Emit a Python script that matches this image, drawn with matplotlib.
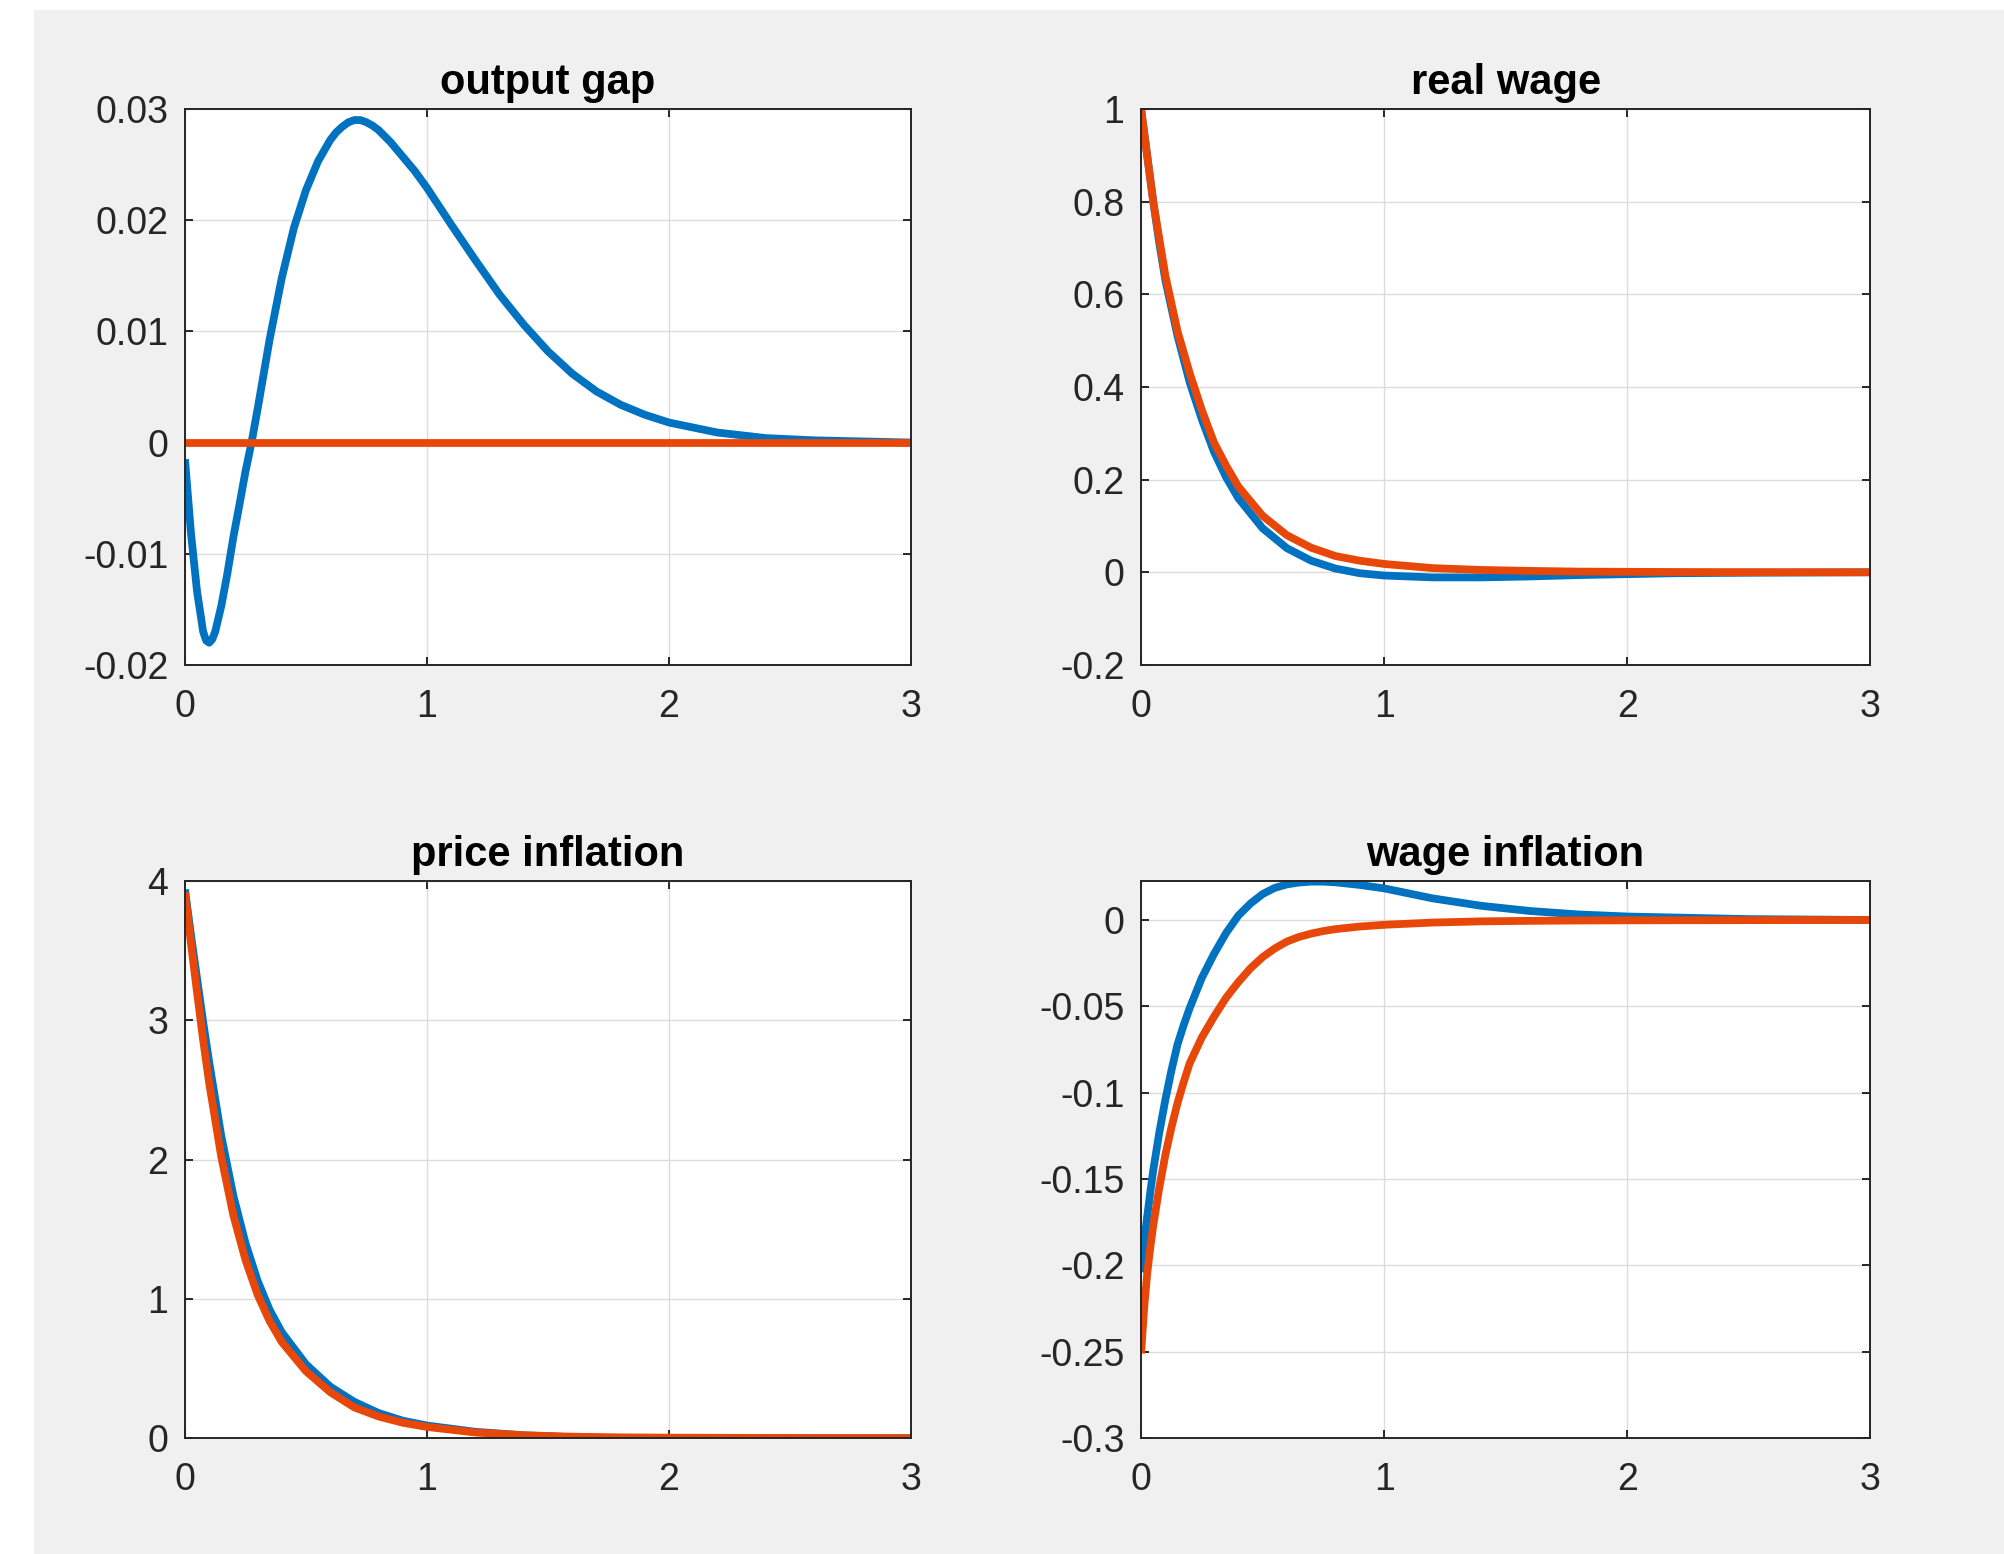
import matplotlib
matplotlib.use('Agg')
import matplotlib.pyplot as plt
from matplotlib.patches import Rectangle
from matplotlib.ticker import FuncFormatter

plt.rcParams['font.family'] = ['Liberation Sans', 'DejaVu Sans']
plt.rcParams['axes.unicode_minus'] = False

# values
t_gap = [0, 0.025, 0.05, 0.075, 0.0875, 0.1, 0.1125, 0.125, 0.15, 0.175, 0.2, 0.225, 0.25, 0.275,
         0.3, 0.35, 0.4, 0.45, 0.5, 0.55, 0.6, 0.625, 0.65, 0.675, 0.7, 0.725, 0.75, 0.775,
         0.8, 0.85, 0.9, 0.95, 1.0, 1.1, 1.2, 1.3, 1.4, 1.5, 1.6, 1.7, 1.8, 1.9, 2.0, 2.2,
         2.4, 2.6, 2.8, 3.0]
gap_blue = [-0.0015, -0.0082, -0.0134, -0.0170, -0.0178, -0.0180, -0.0177, -0.0170, -0.0147,
            -0.0118, -0.0085, -0.0056, -0.0026, 0.0, 0.0030, 0.0093, 0.0148, 0.0193, 0.0227,
            0.0253, 0.0272, 0.0279, 0.0284, 0.0288, 0.0290, 0.0290, 0.0288, 0.0285, 0.0281,
            0.0270, 0.0257, 0.0244, 0.0229, 0.0196, 0.0164, 0.0133, 0.0106, 0.0082, 0.0062,
            0.0046, 0.0034, 0.0025, 0.0018, 0.0009, 0.0004, 0.0002, 0.0001, 0.0]
t_flat = [0, 3]
gap_orange = [0.0, 0.0]

t_decay = [0, 0.025, 0.05, 0.075, 0.1, 0.15, 0.2, 0.25, 0.3, 0.35, 0.4, 0.5, 0.6, 0.7, 0.8,
           0.9, 1.0, 1.2, 1.4, 1.6, 1.8, 2.0, 2.2, 2.5, 3.0]
rw_blue = [1.0, 0.90, 0.80, 0.71, 0.63, 0.51, 0.41, 0.33, 0.26, 0.205, 0.16, 0.095, 0.052,
           0.025, 0.008, -0.002, -0.007, -0.011, -0.011, -0.009, -0.006, -0.004, -0.002,
           -0.001, 0.0]
rw_orange = [1.0, 0.90, 0.80, 0.72, 0.64, 0.52, 0.43, 0.35, 0.28, 0.23, 0.185, 0.122, 0.08,
             0.053, 0.035, 0.025, 0.018, 0.009, 0.005, 0.003, 0.0015, 0.001, 0.0006, 0.0003, 0.0]

pi_blue = [3.94, 3.61, 3.30, 2.99, 2.70, 2.17, 1.74, 1.40, 1.13, 0.92, 0.76, 0.53, 0.37, 0.26,
           0.18, 0.125, 0.09, 0.045, 0.02, 0.006, -0.002, -0.005, -0.005, -0.003, -0.001]
pi_orange = [3.92, 3.55, 3.20, 2.86, 2.55, 2.02, 1.60, 1.28, 1.03, 0.84, 0.69, 0.48, 0.33,
             0.22, 0.155, 0.11, 0.08, 0.04, 0.02, 0.01, 0.005, 0.003, 0.002, 0.001, 0.0]

t_wi = [0, 0.0125, 0.025, 0.0375, 0.05, 0.075, 0.1, 0.125, 0.15, 0.175, 0.2, 0.25, 0.3, 0.35,
        0.4, 0.45, 0.5, 0.55, 0.6, 0.65, 0.7, 0.75, 0.8, 0.9, 1.0, 1.2, 1.4, 1.6, 1.8, 2.0,
        2.5, 3.0]
wi_blue = [-0.204, -0.187, -0.172, -0.158, -0.145, -0.123, -0.104, -0.087, -0.072, -0.061,
           -0.051, -0.0335, -0.0197, -0.0075, 0.0025, 0.0095, 0.0150, 0.0186, 0.0206, 0.0217,
           0.0222, 0.0222, 0.0218, 0.0203, 0.0183, 0.0125, 0.0082, 0.0052, 0.0032, 0.0020,
           0.0005, 0.0]
wi_orange = [-0.251, -0.225, -0.205, -0.190, -0.177, -0.155, -0.136, -0.120, -0.106, -0.094,
             -0.083, -0.068, -0.056, -0.045, -0.036, -0.028, -0.0215, -0.0165, -0.0125,
             -0.0098, -0.0079, -0.0064, -0.0053, -0.0038, -0.0028, -0.0015, -0.0008, -0.0005,
             -0.0003, -0.0002, -0.0001, 0.0]

xticks = [0, 1, 2, 3]
gap_ticks = [-0.02, -0.01, 0, 0.01, 0.02, 0.03]
rw_ticks = [-0.2, 0, 0.2, 0.4, 0.6, 0.8, 1]
pi_ticks = [0, 1, 2, 3, 4]
wi_ticks = [-0.3, -0.25, -0.2, -0.15, -0.1, -0.05, 0]

blue = '#0072C0'
orange = '#E8470A'
dark = '#262626'

fig = plt.figure(figsize=(20.04, 15.54), dpi=100)
fig.patch.set_facecolor('white')
# grey window background like the matlab figure
fig.add_artist(Rectangle((34 / 2004, 0), 1, 1 - 10 / 1554, transform=fig.transFigure,
                         facecolor='#f0f0f0', edgecolor='none', zorder=-10))

rects = [[0.0923, 0.5721, 0.3623, 0.3578],
         [0.5694, 0.5721, 0.3638, 0.3578],
         [0.0923, 0.0746, 0.3623, 0.3584],
         [0.5694, 0.0746, 0.3638, 0.3584]]
panels = [
    ('output gap', t_gap, gap_blue, t_flat, gap_orange, gap_ticks, (-0.02, 0.03)),
    ('real wage', t_decay, rw_blue, t_decay, rw_orange, rw_ticks, (-0.2, 1)),
    ('price inflation', t_decay, pi_blue, t_decay, pi_orange, pi_ticks, (0, 4)),
    ('wage inflation', t_wi, wi_blue, t_wi, wi_orange, wi_ticks, (-0.3, 0.0225)),
]

for rect, (title, tb, yb, to, yo, yt, ylim) in zip(rects, panels):
    ax = fig.add_axes(rect)
    ax.set_facecolor('white')
    ax.plot(tb, yb, color=blue, lw=5.6, solid_capstyle='butt', solid_joinstyle='round')
    ax.plot(to, yo, color=orange, lw=5.6, solid_capstyle='butt', solid_joinstyle='round')
    ax.set_xlim(0, 3)
    ax.set_ylim(*ylim)
    ax.set_xticks(xticks)
    ax.set_yticks(yt)
    ax.yaxis.set_major_formatter(FuncFormatter(lambda v, p: '%g' % round(v, 4)))
    ax.grid(True, color='#dcdcdc', lw=1.0)
    ax.set_axisbelow(True)
    for s in ax.spines.values():
        s.set_color(dark)
        s.set_linewidth(1.4)
    ax.tick_params(direction='in', length=5.5, width=1.4, color=dark, labelcolor=dark,
                   labelsize=27, top=True, right=True)
    ax.tick_params(axis='x', pad=17)
    ax.tick_params(axis='y', pad=12)
    ax.set_title(title, fontsize=30, fontweight='bold', pad=11)

fig.savefig('out.png', dpi=100)
